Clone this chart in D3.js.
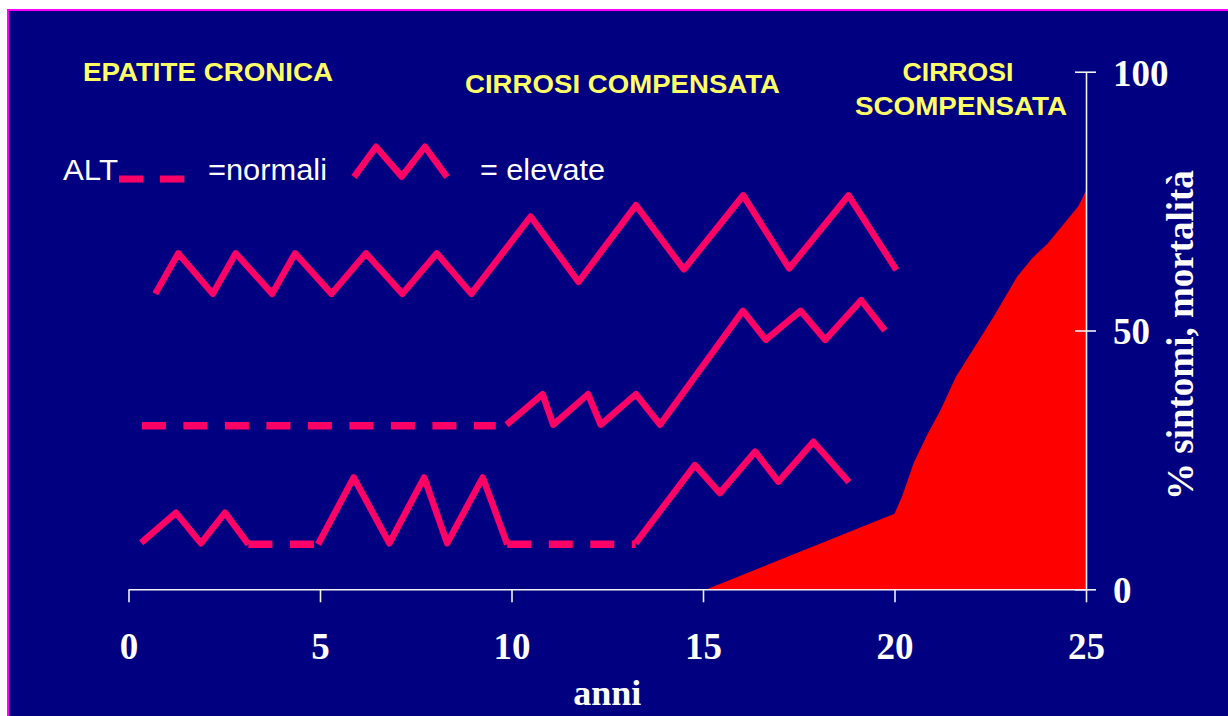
<!DOCTYPE html>
<html>
<head>
<meta charset="utf-8">
<script src="https://cdn.jsdelivr.net/npm/d3@7"></script>
<style>
  body { margin: 0; background: #ffffff; }
  svg { display: block; }
</style>
</head>
<body>
<script>
// ---- Axis ticks ----
const xTicks = [0, 5, 10, 15, 20, 25];
const yTicks = [0, 50, 100];

// ---- Stage headings ----
const stageTitles = ["EPATITE CRONICA", "CIRROSI COMPENSATA"];
const stageTitleLate = ["CIRROSI", "SCOMPENSATA"];

// ---- Axis titles / legend text ----
const xTitle = "anni";
const yTitle = "% sintomi, mortalità";
const legendLabels = ["ALT", "=normali", "= elevate"];

// ---- ALT course, patient 1 (always elevated) : [anni, level] ----
const altTop = [
  [0.7, 57.1], [1.3, 64.9], [2.2, 57.1], [2.8, 64.9], [3.75, 57.1], [4.35, 64.9],
  [5.3, 57.1], [6.2, 64.9], [7.15, 57.1], [8.05, 64.9], [8.95, 57.1],
  [10.5, 72.0], [11.75, 59.4], [13.25, 74.2], [14.5, 61.8], [16.05, 76.1],
  [17.25, 62.0], [18.8, 76.1], [20.05, 61.7]
];

// ---- ALT course, patient 2 (normal, then elevated) ----
const altMidNormal = [[0.35, 31.6], [9.59, 31.6]];
const altMidElevated = [
  [9.87, 31.8], [10.81, 37.7], [11.09, 31.8], [12.0, 37.7], [12.33, 31.8],
  [13.25, 37.7], [13.88, 31.8], [16.04, 53.8], [16.64, 48.2], [17.55, 53.8],
  [18.19, 48.2], [19.13, 55.85], [19.75, 50.0]
];

// ---- ALT course, patient 3 (fluctuating) ----
const altLowElevatedA = [
  [0.33, 9.0], [1.24, 14.8], [1.89, 8.9], [2.52, 14.8], [3.13, 8.7]
];
const altLowNormalA = [[3.13, 8.7], [4.95, 8.7]];
const altLowElevatedB = [
  [4.95, 8.7], [5.88, 21.6], [6.81, 8.9], [7.72, 21.6], [8.32, 8.9],
  [9.25, 21.6], [9.89, 8.7]
];
const altLowNormalB = [[9.89, 8.7], [13.24, 8.7]];
const altLowElevatedC = [
  [13.24, 8.9], [14.79, 24.0], [15.44, 18.6], [16.36, 26.6], [16.97, 20.8],
  [17.88, 28.5], [18.81, 20.7]
];

// ---- Symptoms / mortality (%) ----
const mortality = [
  [15.1, 0], [20.0, 14.6], [20.2, 18.0], [20.5, 24.4], [20.85, 29.8],
  [21.2, 34.6], [21.6, 41.0], [22.15, 47.5], [22.6, 52.8], [23.2, 60.4],
  [23.6, 64.0], [24.0, 66.8], [24.5, 71.3], [24.8, 74.0], [25.0, 77.0]
];

const W = 1228, H = 716;
const NAVY = "#000080", ALT_COLOR = "#FF0066", AREA_COLOR = "#FF0000";
const YELLOW = "#FFFF66";

const svg = d3.select("body").append("svg")
  .attr("width", W).attr("height", H);

// slide background with thin magenta frame
svg.append("rect")
  .attr("x", 8).attr("y", 10)
  .attr("width", W).attr("height", H)
  .attr("fill", NAVY)
  .attr("stroke", "#FF00FF").attr("stroke-width", 2);

const x = d3.scaleLinear().domain([0, 25]).range([128.5, 1086]);
const y = d3.scaleLinear().domain([0, 100]).range([589.3, 71.7]);

// mortality area
const area = d3.area()
  .x(d => x(d[0]))
  .y0(y(0))
  .y1(d => y(d[1]));
svg.append("path")
  .datum(mortality)
  .attr("d", area)
  .attr("fill", AREA_COLOR);

// ALT lines
const line = d3.line().x(d => x(d[0])).y(d => y(d[1]));
const elevated = [altTop, altMidElevated, altLowElevatedA, altLowElevatedB, altLowElevatedC];
const normal = [altMidNormal, altLowNormalA, altLowNormalB];

svg.append("g").selectAll("path")
  .data(elevated).join("path")
  .attr("d", line)
  .attr("fill", "none")
  .attr("stroke", ALT_COLOR)
  .attr("stroke-width", 6.5)
  .attr("stroke-linejoin", "round")
  .attr("stroke-linecap", "butt");

svg.append("g").selectAll("path")
  .data(normal).join("path")
  .attr("d", line)
  .attr("fill", "none")
  .attr("stroke", ALT_COLOR)
  .attr("stroke-width", 7.5)
  .attr("stroke-dasharray", "24 17.5")
  .attr("stroke-linecap", "butt");

// axes
const AXIS_COLOR = "#F2F2F2";
const serif = "'Liberation Serif', 'Times New Roman', serif";
const sans = "'Liberation Sans', Arial, sans-serif";

const gx = svg.append("g")
  .attr("transform", `translate(0,${y(0)})`)
  .call(d3.axisBottom(x).tickValues(xTicks).tickSize(13).tickSizeOuter(0));
gx.select(".domain").attr("stroke", AXIS_COLOR).attr("stroke-width", 1.6);
gx.selectAll(".tick line").attr("stroke", AXIS_COLOR).attr("stroke-width", 1.6);
gx.selectAll(".tick text")
  .attr("y", 70).attr("dy", 0)
  .attr("fill", "#FFFFFF")
  .attr("font-family", serif)
  .attr("font-weight", "bold")
  .attr("font-size", 37);

const gy = svg.append("g")
  .attr("transform", `translate(${x(25)},0)`)
  .call(d3.axisRight(y).tickValues(yTicks).tickSize(10).tickSizeOuter(0));
gy.select(".domain").attr("stroke", AXIS_COLOR).attr("stroke-width", 1.6);
gy.selectAll(".tick line").attr("x1", -11).attr("stroke", AXIS_COLOR).attr("stroke-width", 1.6);
gy.selectAll(".tick text")
  .attr("x", 27).attr("dy", "0.36em")
  .attr("text-anchor", "start")
  .attr("fill", "#FFFFFF")
  .attr("font-family", serif)
  .attr("font-weight", "bold")
  .attr("font-size", 37);

// axis titles
svg.append("text")
  .attr("x", (x(0) + x(25)) / 2).attr("y", 705)
  .attr("text-anchor", "middle")
  .attr("fill", "#FFFFFF")
  .attr("font-family", serif).attr("font-weight", "bold").attr("font-size", 36)
  .text(xTitle);

svg.append("text")
  .attr("transform", "translate(1193,500) rotate(-90)")
  .attr("text-anchor", "start")
  .attr("fill", "#FFFFFF")
  .attr("font-family", serif).attr("font-weight", "bold").attr("font-size", 37)
  .text(yTitle);

// stage headings
const head = (txt, xs, yb, len, anchor) => svg.append("text")
  .attr("x", xs).attr("y", yb)
  .attr("text-anchor", anchor || "start")
  .attr("fill", YELLOW)
  .attr("font-family", sans).attr("font-weight", "bold").attr("font-size", 26)
  .attr("textLength", len).attr("lengthAdjust", "spacingAndGlyphs")
  .text(txt);
head(stageTitles[0], 83, 81, 250);
head(stageTitles[1], 465, 93, 315);
head(stageTitleLate[0], 958, 81, 111, "middle");
head(stageTitleLate[1], 961, 115, 212, "middle");

// legend
const legText = (txt, xs, len) => svg.append("text")
  .attr("x", xs).attr("y", 180)
  .attr("fill", "#FFFFFF")
  .attr("font-family", sans).attr("font-size", 30)
  .attr("textLength", len).attr("lengthAdjust", "spacingAndGlyphs")
  .text(txt);
legText(legendLabels[0], 63, 55);
legText(legendLabels[1], 208, 119);
legText(legendLabels[2], 480, 125);

const leg = svg.append("g");
leg.append("line")
  .attr("x1", 119).attr("x2", 184.3).attr("y1", 179).attr("y2", 179)
  .attr("stroke", ALT_COLOR).attr("stroke-width", 7)
  .attr("stroke-dasharray", "24.3 16.7");
leg.append("path")
  .attr("d", d3.line()([[354, 177], [376, 146.8], [401.7, 176.5], [425, 146.8], [447, 177]]))
  .attr("fill", "none")
  .attr("stroke", ALT_COLOR).attr("stroke-width", 6.5)
  .attr("stroke-linejoin", "round");
</script>
</body>
</html>
